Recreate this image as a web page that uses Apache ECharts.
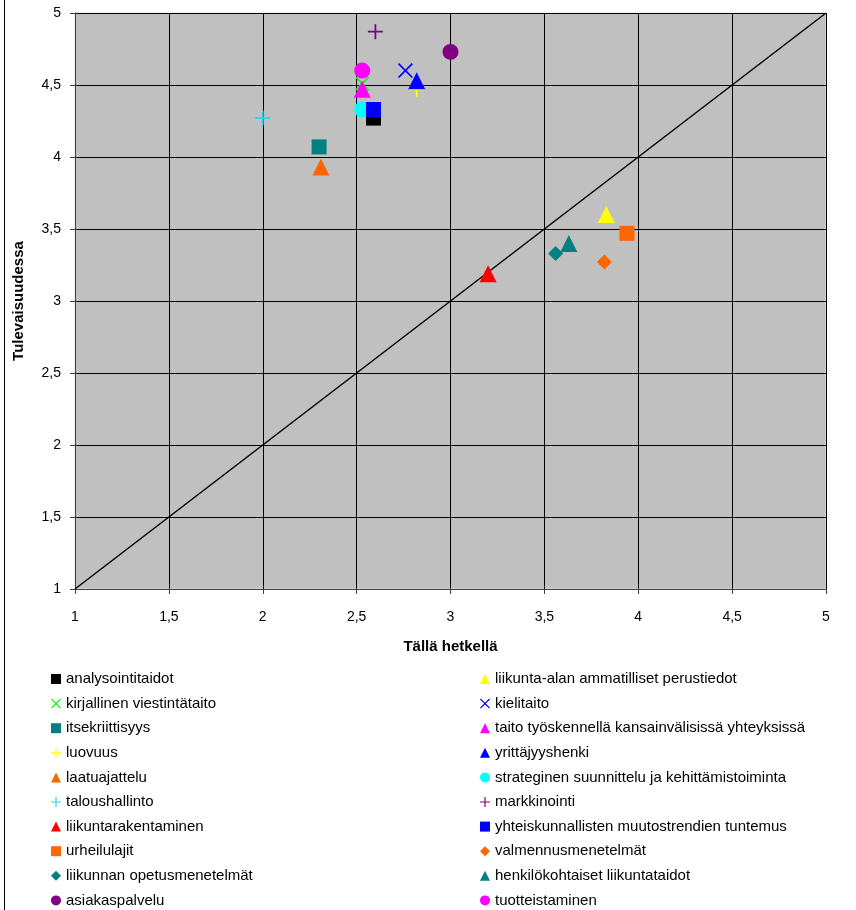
<!DOCTYPE html>
<html>
<head>
<meta charset="utf-8">
<script src="https://cdn.jsdelivr.net/npm/echarts@6/dist/echarts.min.js"></script>
<style>
html,body{margin:0;padding:0;background:#fff;}
#chart{width:856px;height:910px;}
</style>
</head>
<body>
<div id="chart"></div>
<script>
// ---- data ----
const seriesNames = [
  'analysointitaidot',
  'liikunta-alan ammatilliset perustiedot',
  'kirjallinen viestintätaito',
  'kielitaito',
  'itsekriittisyys',
  'taito työskennellä kansainvälisissä yhteyksissä',
  'luovuus',
  'yrittäjyyshenki',
  'laatuajattelu',
  'strateginen suunnittelu ja kehittämistoiminta',
  'taloushallinto',
  'markkinointi',
  'liikuntarakentaminen',
  'yhteiskunnallisten muutostrendien tuntemus',
  'urheilulajit',
  'valmennusmenetelmät',
  'liikunnan opetusmenetelmät',
  'henkilökohtaiset liikuntataidot',
  'asiakaspalvelu',
  'tuotteistaminen'
];
const nowValues    = [2.59, 3.83, 2.53, 2.76, 2.30, 2.53, 2.82, 2.82, 2.31, 2.53, 2.00, 2.60, 3.20, 2.59, 3.94, 3.82, 3.56, 3.63, 3.00, 2.53];
const futureValues = [4.27, 3.60, 4.51, 4.60, 4.07, 4.47, 4.47, 4.53, 3.93, 4.33, 4.27, 4.87, 3.19, 4.33, 3.47, 3.27, 3.33, 3.40, 4.73, 4.60];
const diagonal = [[1, 1], [5, 5]];
const axisTicks = [1, 1.5, 2, 2.5, 3, 3.5, 4, 4.5, 5];

// ---- styles ----
const PLUS = 'path://M0,4.4 H10 V5.6 H0 Z M4.4,0 H5.6 V10 H4.4 Z';
const CROSS = 'path://M0,0.8 L0.8,0 L5,4.2 L9.2,0 L10,0.8 L5.8,5 L10,9.2 L9.2,10 L5,5.8 L0.8,10 L0,9.2 L4.2,5 Z';
const symbols = ['rect','triangle',CROSS,CROSS,'rect','triangle',PLUS,'triangle','triangle','circle',PLUS,PLUS,'triangle','rect','rect','diamond','diamond','triangle','circle','circle'];
const colors = ['#000000','#FFFF00','#00FF00','#0000FF','#008080','#FF00FF','#FFFF00','#0000FF','#FF6600','#00FFFF','#33CCFF','#800080','#FF0000','#0000FF','#FF6600','#FF6600','#008080','#008080','#800080','#FF00FF'];
const sizes = [15,17,14,15,15,17,15,17,17,16,15,15,17,15,15,15,15,17,16,16];

const FONT = 'Liberation Sans, Arial, sans-serif';
const fmt = v => String(v).replace('.', ',');

const chart = echarts.init(document.getElementById('chart'), null, {renderer: 'canvas'});

const scatterSeries = seriesNames.map((n, i) => ({
  name: n,
  type: 'scatter',
  data: [[nowValues[i], futureValues[i]]],
  symbol: symbols[i],
  symbolSize: sizes[i],
  itemStyle: {color: colors[i], opacity: 1},
  emphasis: {disabled: true},
  z: 3
}));

const leftNames = seriesNames.filter((_, i) => i % 2 === 0);
const rightNames = seriesNames.filter((_, i) => i % 2 === 1);

const legendBase = {
  orient: 'vertical',
  top: 666,
  height: 260,
  itemWidth: 10,
  itemHeight: 10,
  itemGap: 8.6,
  selectedMode: false,
  textStyle: {fontFamily: FONT, fontSize: 15, color: '#000', lineHeight: 16}
};

chart.setOption({
  animation: false,
  backgroundColor: '#ffffff',
  textStyle: {fontFamily: FONT},
  grid: {
    left: 75, top: 13, width: 751, height: 576,
    show: true, backgroundColor: '#C0C0C0', borderColor: '#E0E0E0', borderWidth: 1,
    containLabel: false
  },
  xAxis: {
    type: 'value', min: 1, max: 5, interval: 0.5,
    name: 'Tällä hetkellä', nameLocation: 'middle', nameGap: 50,
    nameTextStyle: {fontFamily: FONT, fontSize: 15, fontWeight: 'bold', color: '#000'},
    axisLine: {show: true, onZero: false, lineStyle: {color: '#404040', width: 1}},
    axisTick: {show: true, length: 5, lineStyle: {color: '#404040'}},
    axisLabel: {fontFamily: FONT, fontSize: 14, color: '#000', margin: 21,
      formatter: v => axisTicks.includes(v) ? fmt(v) : ''},
    splitLine: {show: true, lineStyle: {color: '#000', width: 1}}
  },
  yAxis: {
    type: 'value', min: 1, max: 5, interval: 0.5,
    name: 'Tulevaisuudessa', nameLocation: 'middle', nameGap: 49, nameRotate: 90,
    nameTextStyle: {fontFamily: FONT, fontSize: 15, fontWeight: 'bold', color: '#000'},
    axisLine: {show: true, onZero: false, lineStyle: {color: '#404040', width: 1}},
    axisTick: {show: true, length: 5, lineStyle: {color: '#404040'}},
    axisLabel: {fontFamily: FONT, fontSize: 14, color: '#000', margin: 14,
      formatter: v => axisTicks.includes(v) ? fmt(v) : ''},
    splitLine: {show: true, lineStyle: {color: '#000', width: 1}}
  },
  legend: [
    Object.assign({}, legendBase, {left: 46, data: leftNames}),
    Object.assign({}, legendBase, {left: 475, data: rightNames})
  ],
  graphic: [{
    type: 'line', shape: {x1: 4.5, y1: 0, x2: 4.5, y2: 910},
    style: {stroke: '#000', lineWidth: 1}, silent: true
  }],
  series: [{
    name: 'diagonal', type: 'line', data: diagonal,
    showSymbol: false, symbol: 'none', silent: true,
    lineStyle: {color: '#000', width: 1.5}, z: 2
  }].concat(scatterSeries)
});
</script>
</body>
</html>
